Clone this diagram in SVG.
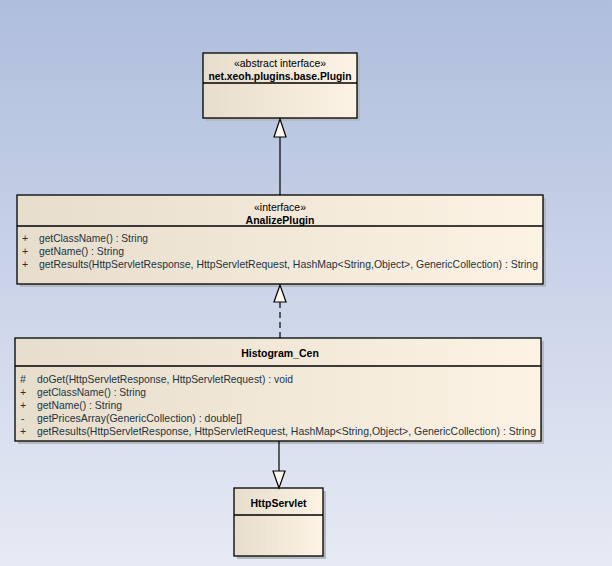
<svg xmlns="http://www.w3.org/2000/svg" width="612" height="566" viewBox="0 0 612 566">
<defs>
<linearGradient id="bg" x1="0" y1="0" x2="0" y2="1">
<stop offset="0" stop-color="#afbedd"/>
<stop offset="1" stop-color="#e6eaf4"/>
</linearGradient>
<linearGradient id="box" x1="0" y1="0" x2="1" y2="0">
<stop offset="0" stop-color="#e6ddcc"/>
<stop offset="1" stop-color="#fdf3e4"/>
</linearGradient>
</defs>
<style>
.shadow{fill:#b4b8c0;}
.cls{fill:url(#box);stroke:#000;stroke-width:1.3;}
.sep{stroke:#000;stroke-width:1.3;}
.t{font-family:"Liberation Sans",Arial,sans-serif;font-size:10.5px;fill:#000;}
.b{font-weight:bold;}
.m{font-family:"Liberation Sans",Arial,sans-serif;font-size:10.5px;fill:#1d3340;}
.line{stroke:#000;stroke-width:1.2;fill:none;}
.dash{stroke-dasharray:6,4;}
.head{fill:#fdf8ee;stroke:#000;stroke-width:1.2;}
</style>
<rect width="612" height="566" fill="url(#bg)"/>

<g id="Plugin">
<rect class="shadow" x="206" y="56" width="154" height="65"/>
<rect class="cls" x="203" y="53" width="154" height="65"/>
<line class="sep" x1="203" y1="83" x2="357" y2="83"/>
<text class="t" x="280" y="67" text-anchor="middle">«abstract interface»</text>
<text class="t b" x="280" y="79.5" text-anchor="middle" textLength="143" lengthAdjust="spacingAndGlyphs">net.xeoh.plugins.base.Plugin</text>
</g>

<g id="AnalizePlugin">
<rect class="shadow" x="20" y="198" width="526" height="89"/>
<rect class="cls" x="17" y="195" width="526" height="89"/>
<line class="sep" x1="17" y1="226" x2="543" y2="226"/>
<text class="t" x="280" y="211" text-anchor="middle">«interface»</text>
<text class="t b" x="280" y="223.5" text-anchor="middle">AnalizePlugin</text>
<text class="m" x="22" y="242">+</text>
<text class="m" x="39" y="242" textLength="109" lengthAdjust="spacingAndGlyphs">getClassName() : String</text>
<text class="m" x="22" y="255">+</text>
<text class="m" x="39" y="255" textLength="85" lengthAdjust="spacingAndGlyphs">getName() : String</text>
<text class="m" x="22" y="268">+</text>
<text class="m" x="39" y="268" textLength="499" lengthAdjust="spacingAndGlyphs">getResults(HttpServletResponse, HttpServletRequest, HashMap&lt;String,Object&gt;, GenericCollection) : String</text>
</g>

<g id="Histogram_Cen">
<rect class="shadow" x="18" y="341" width="526" height="103"/>
<rect class="cls" x="15" y="338" width="526" height="103"/>
<line class="sep" x1="15" y1="366" x2="541" y2="366"/>
<text class="t b" x="280" y="357" text-anchor="middle">Histogram_Cen</text>
<text class="m" x="20" y="383">#</text>
<text class="m" x="37" y="383" textLength="256" lengthAdjust="spacingAndGlyphs">doGet(HttpServletResponse, HttpServletRequest) : void</text>
<text class="m" x="20" y="396">+</text>
<text class="m" x="37" y="396" textLength="109" lengthAdjust="spacingAndGlyphs">getClassName() : String</text>
<text class="m" x="20" y="409">+</text>
<text class="m" x="37" y="409" textLength="85" lengthAdjust="spacingAndGlyphs">getName() : String</text>
<text class="m" x="21" y="422">-</text>
<text class="m" x="37" y="422" textLength="205" lengthAdjust="spacingAndGlyphs">getPricesArray(GenericCollection) : double[]</text>
<text class="m" x="20" y="435">+</text>
<text class="m" x="37" y="435" textLength="499" lengthAdjust="spacingAndGlyphs">getResults(HttpServletResponse, HttpServletRequest, HashMap&lt;String,Object&gt;, GenericCollection) : String</text>
</g>

<g id="HttpServlet">
<rect class="shadow" x="237" y="491" width="89" height="68"/>
<rect class="cls" x="234" y="488" width="89" height="68"/>
<line class="sep" x1="234" y1="515" x2="323" y2="515"/>
<text class="t b" x="278.5" y="507" text-anchor="middle">HttpServlet</text>
</g>

<g id="connectors">
<line class="line" x1="280" y1="195" x2="280" y2="137"/>
<polygon class="head" points="280,119 274,137 286,137"/>
<line class="line dash" x1="280" y1="338" x2="280" y2="302"/>
<polygon class="head" points="280,285 274,302 286,302"/>
<line class="line" x1="279" y1="441" x2="279" y2="471"/>
<polygon class="head" points="279,488 273,471 285,471"/>
</g>
</svg>
